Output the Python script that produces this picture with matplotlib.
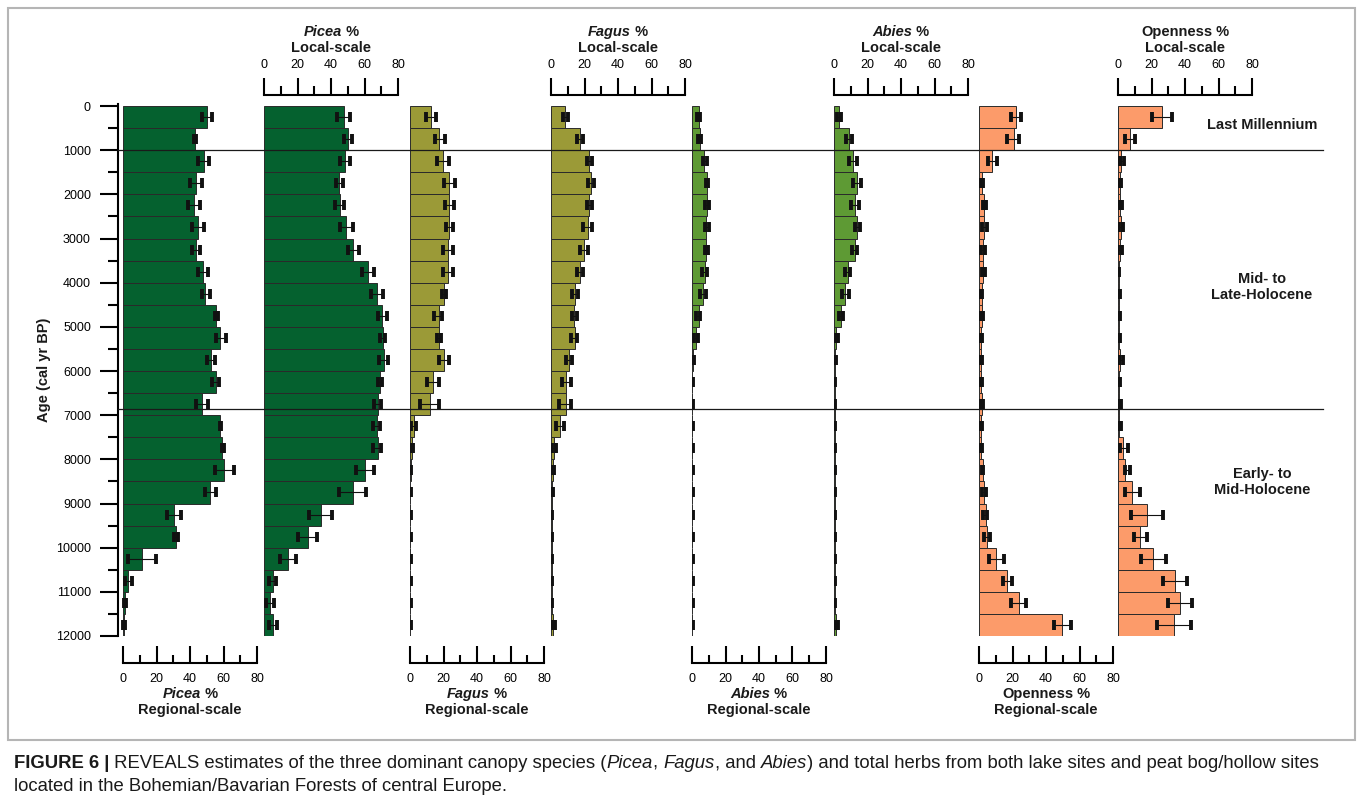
import numpy as np
import matplotlib
matplotlib.use('Agg')
import matplotlib.pyplot as plt
from matplotlib.transforms import blended_transform_factory
from matplotlib.lines import Line2D
from matplotlib.patches import Rectangle

plt.rcParams.update({'font.family': 'Liberation Sans', 'text.color': '#1a1a1a'})

# 500-yr time windows (start age, cal yr BP)
ages = np.array([0, 500, 1000, 1500, 2000, 2500, 3000, 3500, 4000, 4500, 5000, 5500,
                 6000, 6500, 7000, 7500, 8000, 8500, 9000, 9500, 10000, 10500, 11000, 11500])

# REVEALS cover (%) with lower / upper bounds
picea_reg = [50.1, 43.2, 48.2, 43.8, 42.6, 45.0, 43.8, 47.8, 49.2, 55.8, 58.2, 52.8,
             55.4, 47.4, 58.2, 59.3, 60.3, 52.2, 30.5, 31.9, 11.6, 3.0, 1.4, 0.4]
picea_reg_lo = [47.0, 42.4, 45.0, 40.0, 39.0, 41.2, 41.2, 44.8, 47.0, 54.7, 55.4, 50.1,
                53.0, 43.8, 57.7, 59.0, 54.7, 48.8, 26.5, 30.3, 3.0, 1.0, 0.6, 0.0]
picea_reg_hi = [53.0, 43.8, 51.3, 47.4, 46.2, 48.2, 45.8, 51.0, 51.8, 56.7, 61.3, 54.7,
                57.3, 50.7, 58.7, 60.0, 66.3, 55.8, 34.4, 32.8, 19.9, 5.6, 2.0, 1.0]

picea_loc = [47.5, 50.3, 48.5, 44.9, 45.1, 49.1, 53.4, 61.8, 67.4, 70.6, 71.0, 71.4,
             69.0, 68.0, 67.4, 67.8, 60.0, 52.9, 33.9, 26.1, 14.4, 5.2, 3.6, 5.2]
picea_loc_lo = [43.5, 47.5, 45.1, 42.9, 42.1, 45.1, 49.9, 58.5, 64.0, 67.8, 69.4, 68.4,
                67.8, 65.8, 65.0, 65.0, 55.0, 44.5, 26.9, 20.5, 9.4, 3.2, 1.0, 3.0]
picea_loc_hi = [51.5, 52.8, 51.5, 47.1, 47.9, 53.1, 57.0, 65.8, 71.0, 73.4, 72.4, 74.0,
                70.4, 70.0, 69.4, 70.0, 65.4, 61.0, 40.3, 31.5, 19.3, 7.2, 6.0, 8.0]

fagus_reg = [12.4, 17.4, 19.5, 23.5, 23.5, 23.5, 22.9, 22.9, 20.3, 17.1, 17.4, 20.3,
             13.8, 11.8, 2.2, 1.2, 0.4, 0.2, 0.2, 0.2, 0.2, 0.2, 0.2, 0.2]
fagus_reg_lo = [9.8, 14.9, 15.9, 20.3, 20.9, 21.5, 19.5, 19.9, 19.1, 14.5, 16.1, 17.5,
                10.2, 5.8, 0.8, 0.0, 0.0, 0.0, 0.0, 0.0, 0.0, 0.0, 0.0, 0.0]
fagus_reg_hi = [15.3, 20.9, 23.5, 26.9, 26.3, 25.9, 25.9, 25.9, 21.5, 19.1, 18.5, 23.3,
                17.1, 17.5, 3.8, 1.8, 0.6, 0.4, 0.4, 0.4, 0.4, 0.4, 0.4, 0.4]

fagus_loc = [8.2, 17.2, 22.8, 23.8, 22.8, 22.0, 19.6, 17.6, 14.2, 14.0, 14.2, 10.6,
             9.2, 8.8, 5.4, 1.6, 1.0, 0.6, 0.4, 0.4, 0.4, 0.3, 0.3, 1.2]
fagus_loc_lo = [7.0, 15.4, 21.6, 22.2, 21.6, 19.4, 17.6, 15.8, 12.8, 12.4, 12.2, 8.8,
                6.8, 5.0, 2.8, 0.4, 0.4, 0.2, 0.2, 0.2, 0.2, 0.1, 0.1, 0.4]
fagus_loc_hi = [10.2, 19.2, 24.2, 25.8, 24.4, 24.2, 21.8, 19.2, 16.0, 15.8, 15.8, 12.4,
                11.8, 12.2, 7.6, 3.2, 1.6, 1.0, 0.8, 0.8, 0.8, 0.6, 0.6, 2.2]

abies_reg = [4.0, 4.6, 7.4, 8.8, 9.0, 8.6, 8.6, 7.6, 6.6, 4.0, 2.4, 0.6,
             0.2, 0.2, 0.2, 0.2, 0.2, 0.2, 0.2, 0.2, 0.2, 0.2, 0.2, 0.2]
abies_reg_lo = [3.0, 3.6, 6.6, 8.2, 8.0, 7.6, 7.6, 6.2, 5.0, 2.6, 1.4, 0.2,
                0.0, 0.0, 0.0, 0.0, 0.0, 0.0, 0.0, 0.0, 0.0, 0.0, 0.0, 0.0]
abies_reg_hi = [5.0, 5.4, 9.0, 9.6, 10.2, 10.2, 9.8, 9.0, 8.6, 5.0, 3.4, 1.0,
                0.4, 0.4, 0.4, 0.4, 0.4, 0.4, 0.4, 0.4, 0.4, 0.4, 0.4, 0.4]

abies_loc = [3.0, 9.2, 11.6, 13.6, 12.4, 14.0, 12.4, 8.2, 6.8, 4.2, 1.2, 0.6,
             0.4, 0.3, 0.3, 0.3, 0.3, 0.3, 0.3, 0.3, 0.3, 0.3, 0.3, 1.0]
abies_loc_lo = [2.0, 7.2, 9.0, 11.6, 10.2, 12.4, 11.0, 6.4, 4.8, 2.8, 0.8, 0.4,
                0.2, 0.1, 0.1, 0.1, 0.1, 0.1, 0.1, 0.1, 0.1, 0.1, 0.1, 0.4]
abies_loc_hi = [4.0, 11.0, 13.9, 16.2, 14.8, 15.8, 13.6, 9.8, 8.8, 5.2, 2.6, 1.4,
                0.8, 0.6, 0.6, 0.6, 0.6, 0.6, 0.6, 0.6, 0.6, 0.6, 0.6, 2.6]

open_reg = [21.8, 20.6, 7.8, 2.0, 3.0, 3.2, 2.6, 2.2, 1.6, 1.8, 1.0, 1.0,
            1.2, 1.6, 1.2, 1.4, 2.2, 3.0, 4.0, 5.0, 10.2, 17.0, 23.6, 49.6]
open_reg_lo = [19.0, 17.0, 5.2, 1.2, 2.4, 2.0, 1.4, 1.6, 1.0, 0.8, 0.6, 0.6,
               0.8, 1.4, 0.8, 1.0, 1.8, 1.6, 2.6, 3.0, 6.0, 14.2, 19.0, 44.6]
open_reg_hi = [25.0, 24.0, 10.6, 2.6, 4.2, 5.0, 3.8, 3.6, 2.0, 2.6, 1.6, 1.6,
               2.0, 2.4, 1.8, 2.0, 2.6, 4.0, 5.0, 6.6, 14.8, 19.8, 28.0, 55.0]

open_loc = [26.0, 7.0, 2.0, 1.0, 1.2, 1.8, 1.4, 0.6, 0.8, 0.6, 0.6, 1.4,
            0.8, 0.8, 0.8, 3.0, 4.4, 8.4, 17.4, 13.4, 20.8, 33.8, 37.0, 33.4]
open_loc_lo = [20.0, 4.0, 1.0, 0.2, 0.4, 0.4, 0.2, 0.0, 0.2, 0.2, 0.2, 0.4,
               0.4, 0.0, 0.4, 1.0, 4.0, 4.0, 8.0, 9.4, 13.8, 26.8, 30.0, 23.0]
open_loc_hi = [32.0, 10.0, 3.4, 2.0, 2.2, 2.8, 2.4, 0.8, 1.4, 1.0, 1.4, 2.8,
               1.4, 1.6, 1.6, 6.0, 7.0, 13.0, 26.8, 17.4, 28.8, 41.0, 44.4, 43.6]

zone_bounds = [1000, 6850]
zone_names = ['Last Millennium', 'Mid- to\nLate-Holocene', 'Early- to\nMid-Holocene']

COLORS = {'Picea': '#05612f', 'Fagus': '#9b9a37', 'Abies': '#5e9a34', 'Openness': '#fc9b6a'}

W, H = 1358, 806
fig = plt.figure(figsize=(W / 100, H / 100), dpi=100)
renderer = fig.canvas.get_renderer()


def fx(px):
    return px / W


def fy(py):
    return 1 - py / H


def rich_line(x, y, parts, size, ha='center'):
    """Draw a line of text made of differently styled pieces (x, baseline y in pixels)."""
    arts = [fig.text(0, fy(y), s, fontsize=size, va='baseline', ha='left', **kw)
            for s, kw in parts]
    widths = [a.get_window_extent(renderer).width for a in arts]
    x0 = x - sum(widths) / 2 if ha == 'center' else x
    for a, w in zip(arts, widths):
        a.set_x(fx(x0))
        x0 += w


Y_TOP, Y_BOT = 103.8, 636.0     # pixel rows of age -50 and 12000
PX_PER_PCT = 134 / 80
TICK_FS = 9

panels = [
    ('Picea', 'Regional', picea_reg, picea_reg_lo, picea_reg_hi, 123),
    ('Picea', 'Local', picea_loc, picea_loc_lo, picea_loc_hi, 264),
    ('Fagus', 'Regional', fagus_reg, fagus_reg_lo, fagus_reg_hi, 410),
    ('Fagus', 'Local', fagus_loc, fagus_loc_lo, fagus_loc_hi, 551),
    ('Abies', 'Regional', abies_reg, abies_reg_lo, abies_reg_hi, 692),
    ('Abies', 'Local', abies_loc, abies_loc_lo, abies_loc_hi, 834),
    ('Openness', 'Regional', open_reg, open_reg_lo, open_reg_hi, 979),
    ('Openness', 'Local', open_loc, open_loc_lo, open_loc_hi, 1118),
]

axes = []
for i, (taxon, scale, vals, lo, hi, x0) in enumerate(panels):
    pad = 5 if i == 0 else 0
    ax = fig.add_axes([fx(x0 - pad), fy(Y_BOT), fx(134 + pad), (Y_BOT - Y_TOP) / H])
    ax.set_xlim(-pad / PX_PER_PCT, 80)
    ax.set_ylim(12000, -50)
    ax.patch.set_visible(False)
    for s in ax.spines.values():
        s.set_visible(False)

    vals, lo, hi = np.array(vals), np.array(lo), np.array(hi)
    centers = ages + 250
    ax.barh(centers, vals, height=500, color=COLORS[taxon],
            edgecolor='#2a2a2a', linewidth=0.7)
    ax.errorbar((lo + hi) / 2, centers, xerr=(hi - lo) / 2, fmt='none',
                ecolor='#111111', elinewidth=0.8, capsize=3.9, capthick=2.8)

    ax.set_xticks([0, 20, 40, 60, 80])
    ax.set_xticks([10, 30, 50, 70], minor=True)
    if scale == 'Regional':
        sp = ax.spines['bottom']
        sp.set_visible(True)
        sp.set_position(('outward', 19.5))
        sp.set_bounds(0, 80)
        sp.set_linewidth(1.5)
        ax.xaxis.set_ticks_position('bottom')
        ax.tick_params(axis='x', which='major', direction='in', length=12, width=1.5,
                       pad=7, labelsize=TICK_FS)
        ax.tick_params(axis='x', which='minor', direction='in', length=6, width=1.5)
        title_y = (698, 714)
    else:
        sp = ax.spines['top']
        sp.set_visible(True)
        sp.set_position(('outward', 6.3))
        sp.set_bounds(0, 80)
        sp.set_linewidth(1.5)
        ax.xaxis.set_ticks_position('top')
        ax.tick_params(axis='x', which='major', direction='out', length=12.5, width=1.5,
                       pad=5, labelsize=TICK_FS)
        ax.tick_params(axis='x', which='minor', direction='out', length=6.5, width=1.5)
        title_y = (36, 52)

    if i == 0:
        ax.spines['left'].set_visible(True)
        ax.spines['left'].set_linewidth(1.5)
        ax.set_yticks(np.arange(0, 12001, 1000))
        ax.set_yticks(np.arange(500, 12000, 1000), minor=True)
        ax.tick_params(axis='y', which='major', direction='out', length=13, width=1.5,
                       pad=6.5, labelsize=TICK_FS)
        ax.tick_params(axis='y', which='minor', direction='out', length=7, width=1.5)
    else:
        ax.set_yticks([])

    xc = x0 + 67
    name_kw = dict(fontweight='bold') if taxon == 'Openness' else dict(fontweight='bold', fontstyle='italic')
    rich_line(xc, title_y[0], [(taxon, name_kw), (' %', dict(fontweight='bold'))], 10.5)
    rich_line(xc, title_y[1], [(f'{scale}-scale', dict(fontweight='bold'))], 10.5)
    axes.append(ax)

fig.text(fx(44), fy(370), 'Age (cal yr BP)', rotation=90, fontsize=10.5,
         fontweight='bold', ha='center', va='center')

# zone boundaries across all panels
trans = blended_transform_factory(fig.transFigure, axes[0].transData)
for b in zone_bounds:
    fig.add_artist(Line2D([fx(118), fx(1323)], [b, b], transform=trans,
                          color='#1a1a1a', lw=0.9))

for name, y in zip(zone_names, [125, 287, 482]):
    fig.text(fx(1262), fy(y), name, fontsize=10.5, fontweight='bold',
             ha='center', va='center', linespacing=1.1)

# figure frame
fig.add_artist(Rectangle((fx(8), fy(740)), fx(1347), (740 - 8) / H,
                         transform=fig.transFigure, fill=False,
                         edgecolor='#b5b5b5', lw=1.5))

# caption
cap = 13.3
it = dict(fontstyle='italic')
rich_line(14, 768, [('FIGURE 6 |', dict(fontweight='bold')),
                    (' REVEALS estimates of the three dominant canopy species (', {}),
                    ('Picea', it), (', ', {}), ('Fagus', it), (', and ', {}),
                    ('Abies', it),
                    (') and total herbs from both lake sites and peat bog/hollow sites', {})],
          cap, ha='left')
rich_line(14, 791, [('located in the Bohemian/Bavarian Forests of central Europe.', {})],
          cap, ha='left')

fig.savefig('out.png', dpi=100)
